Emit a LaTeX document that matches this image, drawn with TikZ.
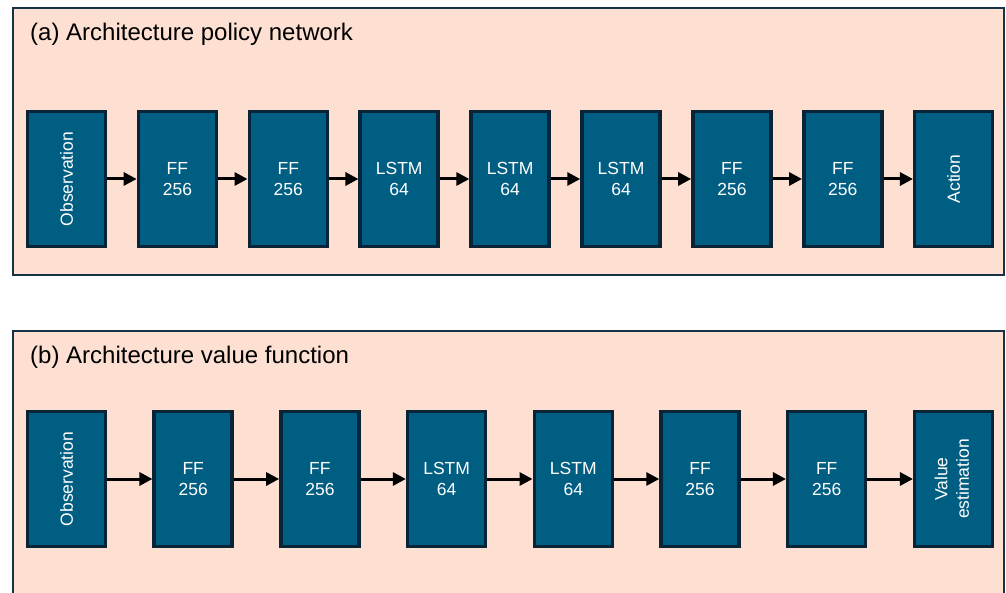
\documentclass[tikz,border=0pt]{standalone}
\usepackage{fontspec}
\setmainfont{Liberation Sans}
\usetikzlibrary{arrows.meta}
\definecolor{panelfill}{RGB}{253,224,210}
\definecolor{panelline}{RGB}{22,50,70}
\definecolor{boxfill}{RGB}{0,94,130}
\definecolor{boxline}{RGB}{8,36,54}
\tikzset{
  panel/.style={draw=panelline, fill=panelfill, line width=2pt},
  layer/.style={draw=boxline, fill=boxfill, line width=3.5pt, minimum width=78pt, minimum height=135pt,
    inner sep=0pt, text=white, font=\fontsize{17.5}{21.5}\selectfont, align=center},
  conn/.style={-{Triangle[length=13pt,width=13pt]}, line width=3pt, black},
  ptitle/.style={anchor=base west, font=\fontsize{24}{28}\selectfont, text=black, inner sep=0pt}
}
\begin{document}
\begin{tikzpicture}[x=1pt,y=-1pt]
\useasboundingbox (0,0) rectangle (1006,593);
\clip (0,0) rectangle (1006,593);
% panel (a)
\draw[panel] (13,8) rectangle (1004,275);
\node[ptitle] (ta) at (30,41) {(a) Architecture policy network};
% panel (b)
\draw[panel] (13,331) rectangle (1004,620);
\node[ptitle] (tb) at (30,363) {(b) Architecture value function};
% row a
\node[layer] (a1) at (66.5,179) {\rotatebox{90}{Observation}};
\node[layer] (a2) at (177.4,179) {FF\\256};
\node[layer] (a3) at (288.3,179) {FF\\256};
\node[layer] (a4) at (399.2,179) {LSTM\\64};
\node[layer] (a5) at (510.1,179) {LSTM\\64};
\node[layer] (a6) at (621.0,179) {LSTM\\64};
\node[layer] (a7) at (731.9,179) {FF\\256};
\node[layer] (a8) at (842.8,179) {FF\\256};
\node[layer] (a9) at (953.7,179) {\rotatebox{90}{Action}};
\foreach \i/\j in {a1/a2,a2/a3,a3/a4,a4/a5,a5/a6,a6/a7,a7/a8,a8/a9}
  \draw[conn] (\i) -- (\j);
% row b
\node[layer] (b1) at (66.5,479) {\rotatebox{90}{Observation}};
\node[layer] (b2) at (193.2,479) {FF\\256};
\node[layer] (b3) at (319.9,479) {FF\\256};
\node[layer] (b4) at (446.6,479) {LSTM\\64};
\node[layer] (b5) at (573.3,479) {LSTM\\64};
\node[layer] (b6) at (700.0,479) {FF\\256};
\node[layer] (b7) at (826.7,479) {FF\\256};
\node[layer] (b8) at (953.7,479) {\rotatebox{90}{\begin{tabular}{@{}c@{}}Value\\estimation\end{tabular}}};
\foreach \i/\j in {b1/b2,b2/b3,b3/b4,b4/b5,b5/b6,b6/b7,b7/b8}
  \draw[conn] (\i) -- (\j);
\end{tikzpicture}
\end{document}
